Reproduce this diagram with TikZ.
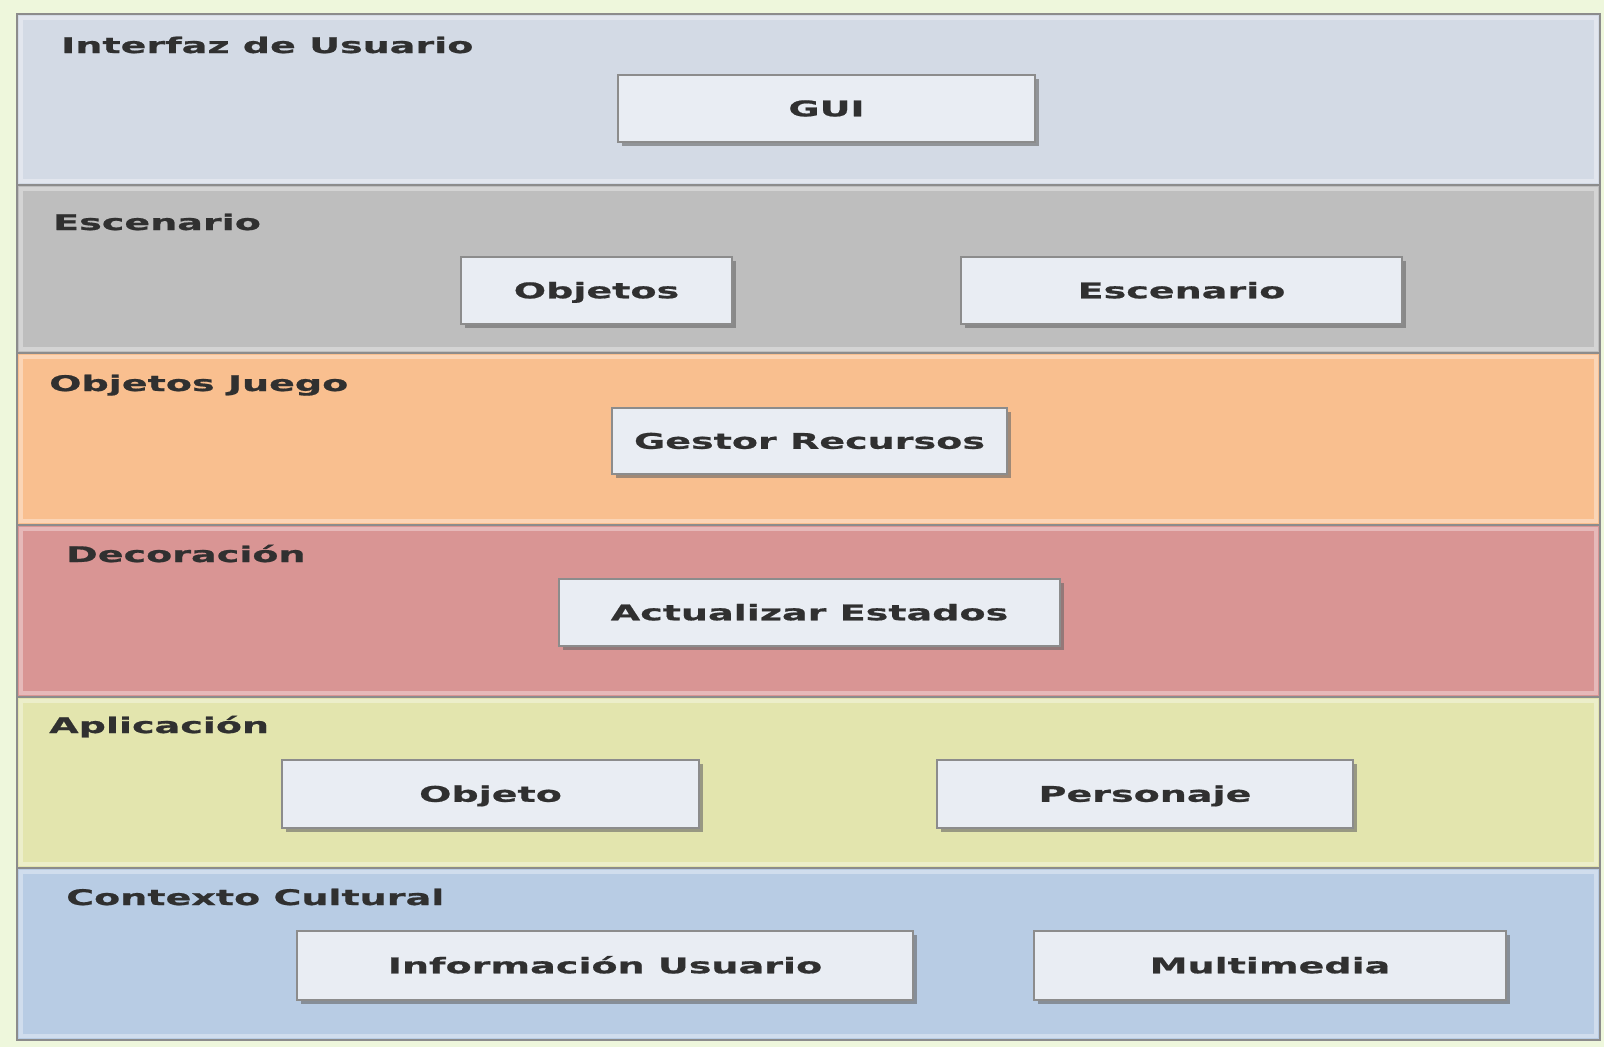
\documentclass[tikz,border=0pt]{standalone}
\usepackage{fontspec}
\usetikzlibrary{shadows}
\newfontfamily\lblfont[FakeStretch=1.77, BoldFeatures={FakeBold=0.8}]{DejaVu Sans}
\definecolor{pagebg}{HTML}{EEF7DC}
\definecolor{frame}{HTML}{8C8C8C}
\definecolor{txt}{HTML}{303030}
\definecolor{bandA}{HTML}{D3DAE5}
\definecolor{bandB}{HTML}{BEBEBE}
\definecolor{bandC}{HTML}{F9BF8F}
\definecolor{bandD}{HTML}{D99594}
\definecolor{bandE}{HTML}{E3E5AE}
\definecolor{bandF}{HTML}{B8CCE4}
\definecolor{boxfill}{HTML}{E9EDF3}
\tikzset{
  lbl/.style={anchor=base west, inner sep=0pt, text=txt, font=\lblfont\bfseries\fontsize{21.5}{24}\selectfont},
  box/.style={draw=frame, line width=1.5pt, fill=boxfill, text=txt,
    font=\lblfont\bfseries\fontsize{21.5}{24}\selectfont,
    text height=15.5pt, text depth=0pt, inner sep=0pt,
    drop shadow={shadow xshift=4pt, shadow yshift=-4pt, fill=black!60, opacity=0.6}},
  glow/.style={draw=white, line width=4pt, opacity=0.35}
}
\newcommand{\band}[3]{%
  \fill[#3] (17,#1) rectangle (1600,#2);
  \draw[glow] (21,#1+4) rectangle (1596,#2-4);
}
\begin{document}
\begin{tikzpicture}[x=1pt,y=-1pt]
\useasboundingbox (0,0) rectangle (1604,1047);
\fill[pagebg] (0,0) rectangle (1604,1047);
\band{14}{185}{bandA}
\band{185}{353}{bandB}
\band{353}{525}{bandC}
\band{525}{697}{bandD}
\band{697}{868}{bandE}
\band{868}{1040}{bandF}
\foreach \yy in {185,353,525,697,868}{\draw[frame, line width=2pt] (17,\yy) -- (1600,\yy);}
\draw[frame, line width=2pt] (17,14) rectangle (1600,1040);
\node[lbl] (l1) at (61,53) {Interfaz de Usuario};
\node[lbl] (l2) at (53,230) {Escenario};
\node[lbl] (l3) at (49,391) {Objetos Juego};
\node[lbl] (l4) at (66,562) {Decoración};
\node[lbl] (l5) at (49,733) {Aplicación};
\node[lbl] (l6) at (66,905) {Contexto Cultural};
\node[box, minimum width=417pt, minimum height=67pt] (gui) at (826.5,108.5) {GUI};
\node[box, minimum width=271pt, minimum height=67pt] (objetos) at (596.5,290.5) {Objetos};
\node[box, minimum width=441pt, minimum height=67pt] (escenario) at (1181.5,290.5) {Escenario};
\node[box, minimum width=395pt, minimum height=66pt] (gestor) at (809.5,441) {Gestor Recursos};
\node[box, minimum width=501pt, minimum height=67pt] (actualizar) at (809.5,612.5) {Actualizar Estados};
\node[box, minimum width=417pt, minimum height=68pt] (objeto) at (490.5,794) {Objeto};
\node[box, minimum width=416pt, minimum height=68pt] (personaje) at (1145,794) {Personaje};
\node[box, minimum width=616pt, minimum height=69pt] (info) at (605,965.5) {Información Usuario};
\node[box, minimum width=472pt, minimum height=69pt] (multi) at (1270,965.5) {Multimedia};
\end{tikzpicture}
\end{document}
